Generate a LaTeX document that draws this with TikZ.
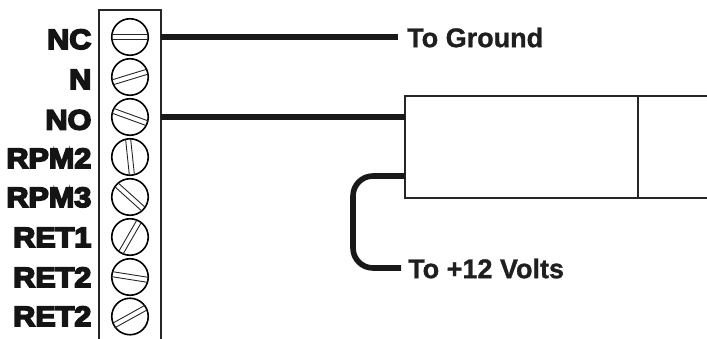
\documentclass[tikz,border=0pt]{standalone}
\usepackage{fontspec}
\usetikzlibrary{calc}
\newfontfamily\pinfont{Liberation Sans Bold}[FakeBold=6,FakeStretch=1.09]
\newfontfamily\notefont{Liberation Sans Bold}[FakeBold=1]
\tikzset{
  x=1pt,y=-1pt,
  pinlabel/.style={anchor=base east,inner sep=0pt,font=\pinfont\fontsize{28}{29}\selectfont,text=black!92},
  note/.style={anchor=west,inner sep=0pt,font=\notefont\fontsize{27}{28}\selectfont,text=black!88},
  screwhead/.style={draw=black,line width=1.6pt,circle,minimum size=36.5pt,inner sep=0pt},
  slotline/.style={line width=0.9pt,black!85},
  stripline/.style={line width=1.9pt,black!85},
  boxline/.style={line width=1.5pt,black!85},
  wire/.style={line width=5.6pt,black!90}
}
\begin{document}
\begin{tikzpicture}
\useasboundingbox (0,0) rectangle (707,339);
% terminal strip
\coordinate (tl) at (99,339);
\coordinate (ttl) at (99,10);
\coordinate (ttr) at (161,10);
\coordinate (tr) at (161,339);
\draw[stripline,line join=miter] (tl) -- (ttl) -- (ttr) -- (tr);
% screws and pin labels
\foreach \n/\yy/\bl/\ang/\lab in {1/37/49/0/NC,2/77/89/17/N,3/117/129.5/-20/NO,4/157/168/-84/RPM2,5/197/207/-42/RPM3,6/237/247/60/RET1,7/277/287/-9/RET2,8/316.5/326/29/RET2}{
  \node[screwhead] (s\n) at (130,\yy) {};
  \draw[slotline] ($(s\n.center)+(\ang+8:18.2pt)$) -- ($(s\n.center)+(\ang+172:18.2pt)$);
  \draw[slotline] ($(s\n.center)+(\ang-8:18.2pt)$) -- ($(s\n.center)+(\ang+188:18.2pt)$);
  \node[pinlabel] (l\n) at (91.5,\bl) {\lab};
}
% relay box
\coordinate (b1) at (707,96);
\coordinate (b2) at (405,96);
\coordinate (b3) at (405,198);
\coordinate (b4) at (707,198);
\coordinate (d1) at (638,96);
\coordinate (d2) at (638,198);
\draw[boxline] (b1) -- (b2) -- (b3) -- (b4);
\draw[boxline] (d1) -- (d2);
% texts
\node[note] (g) at (407,37.5) {To Ground};
\node[note] (v) at (408,268.5) {To +12 Volts};
% wires
\coordinate (w1) at (161,37);
\coordinate (w2) at (398,37);
\coordinate (w3) at (161,117);
\coordinate (w4) at (405,117);
\coordinate (w5) at (405,176);
\coordinate (w6) at (401,268);
\draw[wire] (w1) -- (w2);
\draw[wire] (w3) -- (w4);
\draw[wire,rounded corners=20pt] (w5) -- (353,176) -- (353,268) -- (w6);
\end{tikzpicture}
\end{document}
